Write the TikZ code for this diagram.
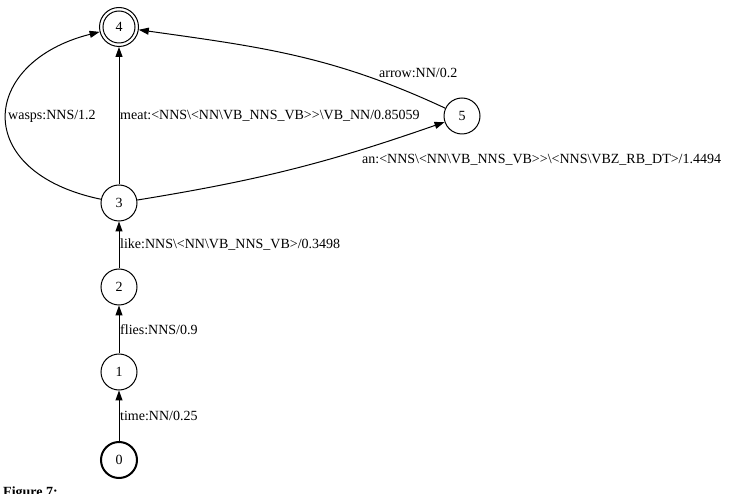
\documentclass[tikz,border=0pt]{standalone}
\usepackage{fontspec}
\setmainfont{Liberation Serif}
\usetikzlibrary{arrows.meta}
\newcommand{\bsl}{\textbackslash}
\begin{document}
\begin{tikzpicture}[x=1pt,y=-1pt,
  st/.style={circle,draw,line width=1pt,minimum size=36pt,inner sep=0pt,font=\fontsize{14}{16}\selectfont},
  lbl/.style={anchor=west,inner sep=0pt,font=\fontsize{14}{16}\selectfont},
  edge/.style={line width=1pt,-{Triangle[length=10pt,width=7pt]}}]
\useasboundingbox (0,0) rectangle (734,494);
% states
\node[st,minimum size=39pt] (n4) at (119,27) {4};
\draw[line width=1pt] (n4.center) circle (16pt);
\node[st] (n3) at (119,203) {3};
\node[st] (n2) at (119,287) {2};
\node[st] (n1) at (119,372) {1};
\node[st,line width=2pt] (n0) at (119,460) {0};
\node[st] (n5) at (462,116) {5};
% edges
\draw[edge] (n0) -- (n1);
\draw[edge] (n1) -- (n2);
\draw[edge] (n2) -- (n3);
\draw[edge] (n3) -- (n4);
\draw[edge] (n3) .. controls (-30,172) and (-20,62) .. (n4);
\draw[edge] (n3) to[bend right=5] (n5);
\draw[edge] (n5) to[out=155,in=-8] (n4);
% labels
\node[lbl] (l01) at (120,416) {time:NN/0.25};
\node[lbl] (l12) at (120,330) {flies:NNS/0.9};
\node[lbl] (l23) at (120,245) {like:NNS\bsl<NN\bsl VB\_NNS\_VB>/0.3498};
\node[lbl] (l34a) at (120,116) {meat:<NNS\bsl<NN\bsl VB\_NNS\_VB>{}>\bsl VB\_NN/0.85059};
\node[lbl] (l34b) at (8,116) {wasps:NNS/1.2};
\node[lbl] (l35) at (362,160) {an:<NNS\bsl<NN\bsl VB\_NNS\_VB>{}>\bsl<NNS\bsl VBZ\_RB\_DT>/1.4494};
\node[lbl] (l54) at (379,73) {arrow:NN/0.2};
% cut-off caption
\node[anchor=north west,inner sep=0pt,font=\bfseries\fontsize{14}{16}\selectfont] (cap) at (3,487) {Figure 7:};
\end{tikzpicture}
\end{document}
